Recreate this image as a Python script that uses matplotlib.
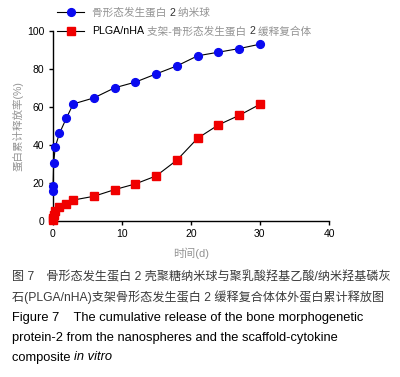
import matplotlib
matplotlib.use("Agg")
import matplotlib.pyplot as plt
from matplotlib.lines import Line2D

# release data (time in days, cumulative release in %)
t_days = [0.02, 0.08, 0.17, 0.4, 1, 2, 3, 6, 9, 12, 15, 18, 21, 24, 27, 30]
rel_nano = [15.7, 18.4, 30.6, 39, 46, 54, 61.5, 64.7, 70, 73, 77.3, 81.5, 86.8, 88.7, 90.6, 92.9]
rel_scaffold = [0.5, 1.5, 3, 5, 7.2, 9, 11, 13, 16.5, 19.5, 23.7, 32, 43.5, 50.5, 55.5, 61.3]

x_ticks = [0, 10, 20, 30, 40]
y_ticks = [0, 20, 40, 60, 80, 100]

FAM = ["Liberation Sans", "Noto Sans CJK SC"]
GRAY = "#939393"
W, H = 400, 377

plt.rcParams["font.family"] = FAM

fig = plt.figure(figsize=(W / 100, H / 100), dpi=100)
ax = fig.add_axes([52.5 / W, 1 - 221 / H, (329 - 52.5) / W, (221 - 30.7) / H])

ax.plot(t_days, rel_nano, color="black", lw=0.8, marker="o", ms=5.6,
        mfc="#0a0af0", mec="#0a0af0", clip_on=False, zorder=3)
ax.plot(t_days, rel_scaffold, color="black", lw=0.8, marker="s", ms=5.8,
        mfc="#f00000", mec="#f00000", clip_on=False, zorder=3)

ax.set_xlim(0, 40)
ax.set_ylim(0, 100)
ax.set_xticks(x_ticks)
ax.set_yticks(y_ticks)
ax.tick_params(labelsize=7.5, length=3, width=1.0, direction="out", pad=3)
for s in ["top", "right"]:
    ax.spines[s].set_visible(False)
for s in ["left", "bottom"]:
    ax.spines[s].set_linewidth(1.0)

ax.set_ylabel("蛋白累计释放率(%)", fontsize=7.6, color=GRAY, labelpad=2)
ax.set_xlabel("时间(d)", fontsize=8, color=GRAY, labelpad=6)

renderer = fig.canvas.get_renderer()


def text_width(s, **kw):
    # measure with a guard char so trailing spaces count
    a = fig.text(0, 0, s + "|", **kw)
    b = fig.text(0, 0, "|", **kw)
    w = a.get_window_extent(renderer).width - b.get_window_extent(renderer).width
    a.remove()
    b.remove()
    return w


def seg_text(x, y, parts, size):
    for s, color, style in parts:
        kw = dict(fontsize=size, family=FAM, style=style, color=color)
        fig.text(x / W, 1 - y / H, s, va="baseline", **kw)
        x += text_width(s, **kw)


# legend handles
for yy, mk, c in [(11.7, "o", "#0a0af0"), (30.7, "s", "#f00000")]:
    fig.add_artist(Line2D([57 / W, 84 / W], [1 - yy / H] * 2, color="black", lw=0.8))
    fig.add_artist(Line2D([70.5 / W], [1 - yy / H], marker=mk, ms=5.8 if mk == "s" else 5.6,
                          mfc=c, mec=c, color=c))

seg_text(92, 15.5, [("骨形态发生蛋白 ", GRAY, "normal"), ("2", "#333333", "normal"),
                    (" 纳米球", GRAY, "normal")], 7.65)
seg_text(92, 34.5, [("PLGA/nHA", "black", "normal"), (" 支架-骨形态发生蛋白 ", GRAY, "normal"),
                    ("2", "#333333", "normal"), (" 缓释复合体", GRAY, "normal")], 7.65)

# caption
CAP = "#3a3a3a"
seg_text(12, 280.5, [("图 7　骨形态发生蛋白 2 壳聚糖纳米球与聚乳酸羟基乙酸/纳米羟基磷灰", CAP, "normal")], 8.7)
seg_text(12, 301, [("石(PLGA/nHA)支架骨形态发生蛋白 2 缓释复合体体外蛋白累计释放图", CAP, "normal")], 8.7)
seg_text(12, 321.5, [("Figure 7    The cumulative release of the bone morphogenetic", "black", "normal")], 9.25)
seg_text(12, 341.5, [("protein-2 from the nanospheres and the scaffold-cytokine", "black", "normal")], 9.25)
seg_text(12, 360.5, [("composite ", "black", "normal"), ("in vitro", "black", "italic")], 9.25)

fig.savefig("out.png", dpi=100)
